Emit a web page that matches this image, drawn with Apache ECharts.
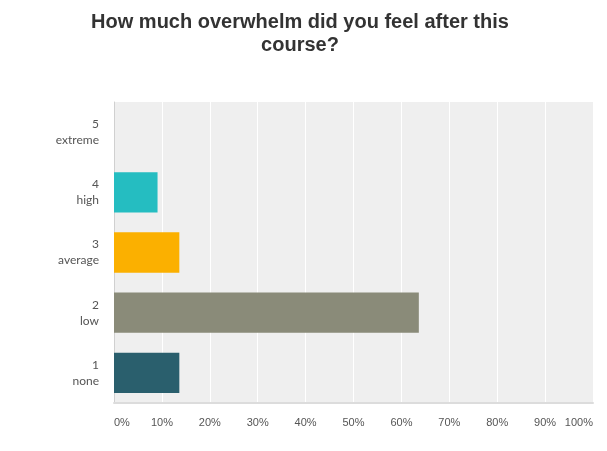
<!DOCTYPE html>
<html><head><meta charset="utf-8">
<script src="https://cdn.jsdelivr.net/npm/echarts@6/dist/echarts.min.js"></script>
<style>html,body{margin:0;padding:0;background:#fff}#c{width:607px;height:451px}</style>
</head><body><div id="c"></div>
<script>
const categories = ['1\nnone', '2\nlow', '3\naverage', '4\nhigh', '5\nextreme'];
const values = [13.64, 63.64, 13.64, 9.09, 0];
const barColors = ['#2A5F6D', '#8A8B79', '#FBB000', '#25BDC1', '#6BB5C9'];
const titleText = 'How much overwhelm did you feel after this\ncourse?';

const chart = echarts.init(document.getElementById('c'), null, {renderer: 'canvas'});
chart.setOption({
  animation: false,
  backgroundColor: '#ffffff',
  title: {
    text: titleText,
    left: 295, top: 6, textAlign: 'center',
    textStyle: {fontFamily: 'Liberation Sans, Arial, sans-serif', fontSize: 20, fontWeight: 'bold', color: '#333333', lineHeight: 23}
  },
  grid: {left: 114, right: 14, top: 102, bottom: 48, show: true, backgroundColor: '#efefef', borderWidth: 0},
  xAxis: {
    type: 'value', min: 0, max: 100, interval: 10,
    axisLine: {show: true, lineStyle: {color: '#dcdcdc', width: 2}},
    axisTick: {show: false},
    splitLine: {show: true, lineStyle: {color: '#ffffff', width: 1}},
    axisLabel: {formatter: '{value}%', color: '#555555', fontSize: 11, fontFamily: 'Liberation Sans, Arial, sans-serif', margin: 14, alignMinLabel: 'left', alignMaxLabel: 'right'}
  },
  yAxis: {
    type: 'category', data: categories,
    axisLine: {show: true, lineStyle: {color: '#d0d0d0', width: 1}},
    axisTick: {show: false},
    splitLine: {show: false},
    axisLabel: {color: '#555555', fontSize: 12, lineHeight: 16, fontFamily: 'Lato, Noto Sans, sans-serif', margin: 15, align: 'right'}
  },
  series: [{
    type: 'bar', barCategoryGap: '33%',
    data: values.map((v, i) => ({value: v, itemStyle: {color: barColors[i]}}))
  }]
});
</script></body></html>
